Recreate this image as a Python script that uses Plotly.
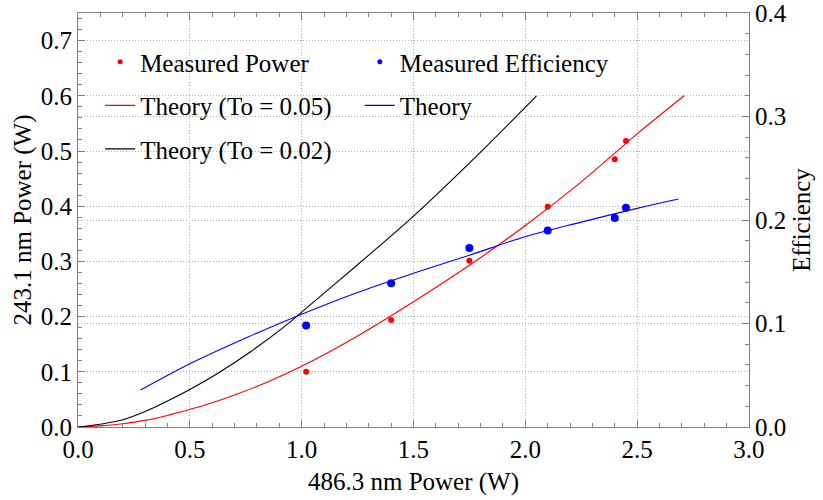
import plotly.graph_objects as go

# Measured data
meas_x = [1.02, 1.40, 1.75, 2.10, 2.40, 2.45]
meas_power = [0.100, 0.194, 0.301, 0.399, 0.485, 0.518]
meas_eff = [0.098, 0.139, 0.173, 0.190, 0.202, 0.212]

# Theory (To = 0.05)
th05_x = [0, 0.1, 0.2, 0.3, 0.4, 0.5, 0.6, 0.7, 0.85, 1.0, 1.25, 1.5, 1.75, 2.0, 2.25, 2.5, 2.71]
th05_y = [0, 0.002, 0.006, 0.012, 0.021, 0.032, 0.044, 0.058, 0.082, 0.110, 0.165, 0.227, 0.293, 0.365, 0.444, 0.531, 0.600]

# Theory (To = 0.02)
th02_x = [0, 0.1, 0.2, 0.3, 0.4, 0.5, 0.62, 0.77, 0.92, 1.0, 1.25, 1.5, 1.8, 2.05]
th02_y = [0, 0.005, 0.013, 0.028, 0.047, 0.068, 0.096, 0.136, 0.181, 0.208, 0.294, 0.382, 0.498, 0.600]

# Theory efficiency
the_x = [0.28, 0.5, 0.75, 1.0, 1.25, 1.5, 1.75, 2.0, 2.25, 2.5, 2.685]
the_y = [0.0357, 0.0611, 0.086, 0.109, 0.130, 0.1485, 0.166, 0.1839, 0.198, 0.2113, 0.2203]

FONT = "Liberation Serif"
GRID = "#b4b4b4"
AXIS = "#808080"

fig = go.Figure()

# curves
fig.add_trace(go.Scatter(x=th05_x, y=th05_y, mode="lines", line=dict(color="#ff0000", width=1.1, shape="spline", smoothing=1.0),
                         showlegend=False))
fig.add_trace(go.Scatter(x=th02_x, y=th02_y, mode="lines", line=dict(color="black", width=1.1, shape="spline", smoothing=1.0),
                         showlegend=False))
fig.add_trace(go.Scatter(x=the_x, y=the_y, mode="lines", line=dict(color="#0000ff", width=1.1, shape="spline", smoothing=1.0),
                         yaxis="y2", showlegend=False))
fig.add_trace(go.Scatter(x=meas_x, y=meas_power, mode="markers", marker=dict(color="#ff0000", size=6),
                         showlegend=False))
fig.add_trace(go.Scatter(x=meas_x, y=meas_eff, mode="markers", marker=dict(color="#0000ff", size=8),
                         yaxis="y2", showlegend=False))

# legend entries
def leg(name, legend, group, **kw):
    fig.add_trace(go.Scatter(x=[None], y=[None], name=name, legend=legend, legendgroup=group, **kw))

leg("Measured Power", "legend", "a", mode="markers", marker=dict(color="#ff0000", size=5))
leg("Theory (To = 0.05)", "legend", "b", mode="lines", line=dict(color="#ff0000", width=1.1))
leg("Theory (To = 0.02)", "legend", "c", mode="lines", line=dict(color="black", width=1.1))
leg("Measured Efficiency", "legend2", "d", mode="markers", marker=dict(color="#0000ff", size=5))
leg("Theory", "legend2", "e", mode="lines", line=dict(color="#0000ff", width=1.1))

axis_common = dict(
    showline=True, linecolor=AXIS, linewidth=1,
    ticks="inside", ticklen=7, tickcolor=AXIS,
    tickfont=dict(family=FONT, size=25, color="black"),
    showgrid=True, gridcolor=GRID, griddash="1px,2px", gridwidth=1,
    zeroline=False, tickformat=".1f", automargin=False, ticklabeloverflow="allow",
)

fig.update_layout(
    width=823, height=500,
    margin=dict(l=78, r=74, t=13, b=73),
    paper_bgcolor="white", plot_bgcolor="white",
    font=dict(family=FONT, size=25, color="black"),
    xaxis=dict(range=[0, 3.0001], dtick=0.5, mirror="ticks",
               minor=dict(ticks="inside", dtick=0.1, ticklen=4, tickcolor=AXIS, showgrid=False),
               title=dict(text="486.3 nm Power (W)", font=dict(family=FONT, size=25), standoff=10),
               **axis_common),
    yaxis=dict(range=[0, 0.75], dtick=0.1,
               minor=dict(ticks="inside", dtick=0.02, ticklen=4, tickcolor=AXIS, showgrid=False),
               title=dict(text="243.1 nm Power (W)", font=dict(family=FONT, size=25), standoff=2),
               **axis_common),
    yaxis2=dict(range=[0, 0.4001], dtick=0.1, overlaying="y", side="right",
                minor=dict(ticks="inside", dtick=0.02, ticklen=4, tickcolor=AXIS, showgrid=False),
                title=dict(text="Efficiency", font=dict(family=FONT, size=25), standoff=6),
                **axis_common),
    legend=dict(x=0.033, y=0.937, xanchor="left", yanchor="top", bgcolor="rgba(0,0,0,0)",
                font=dict(family=FONT, size=25), tracegroupgap=8, traceorder="grouped"),
    legend2=dict(x=0.42, y=0.937, xanchor="left", yanchor="top", bgcolor="rgba(0,0,0,0)",
                 font=dict(family=FONT, size=25), tracegroupgap=8, traceorder="grouped"),
)

fig.write_html("out.html")
